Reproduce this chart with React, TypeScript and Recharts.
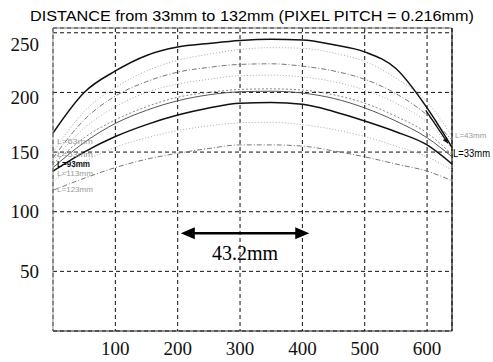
import {
  CartesianGrid,
  Line,
  LineChart,
  ReferenceDot,
  ReferenceLine,
  XAxis,
  YAxis,
} from "recharts";

// pixel positions along the sensor
const positions = [0, 50, 100, 150, 200, 250, 300, 350, 400, 450, 500, 550, 600, 640];

// output per distance L
const l33 = [166, 200, 218, 231, 238, 241, 243.5, 244.5, 244, 240, 234, 220, 187, 154];
const l43 = [150, 184, 204, 218, 227, 232, 236, 237.5, 237, 233, 226, 212, 192, 163];
const l53 = [145, 177, 197, 209, 217, 221, 223.5, 224, 222, 218, 211, 199, 181, 160];
const l63 = [143, 170, 188, 200, 207, 211, 214, 214.5, 213, 209, 202, 191, 175, 153];
const l73 = [140, 162, 177, 188, 196, 200, 202.5, 203, 202, 198, 191, 180, 166, 148];
const l83 = [137, 158, 174, 185, 193, 198, 200.5, 201, 199.5, 195, 187, 176, 162, 146];
const l93 = [134, 150, 163, 173, 181, 187, 191, 191.5, 190, 184, 176, 167, 156, 140];
const l113 = [126, 142, 154, 162, 168, 172, 174.5, 175, 173, 169, 163, 155, 146, 135];
const l123 = [118, 128, 137, 144, 149, 153, 156, 156, 155, 151, 146, 140, 134, 126];

const xTicks = [100, 200, 300, 400, 500, 600];
const yTicks = [50, 100, 150, 200, 250];

const spanStart = 205;
const spanEnd = 411;
const spanLevel = 82;
const spanText = "43.2mm";

const title = "DISTANCE from 33mm to 132mm (PIXEL PITCH = 0.216mm)";

const data = positions.map((x, i) => ({
  x,
  l33: l33[i],
  l43: l43[i],
  l53: l53[i],
  l63: l63[i],
  l73: l73[i],
  l83: l83[i],
  l93: l93[i],
  l113: l113[i],
  l123: l123[i],
}));

const series = [
  { key: "l123", stroke: "#777", width: 1, dash: "5 2 1 2" },
  { key: "l113", stroke: "#aaa", width: 1, dash: "1 2" },
  { key: "l93", stroke: "#111", width: 1.5, dash: undefined },
  { key: "l83", stroke: "#555", width: 1, dash: undefined },
  { key: "l73", stroke: "#888", width: 1, dash: "2 2" },
  { key: "l63", stroke: "#aaa", width: 1, dash: "1 2" },
  { key: "l53", stroke: "#777", width: 1, dash: "5 2 1 2" },
  { key: "l43", stroke: "#aaa", width: 1, dash: "1 2" },
  { key: "l33", stroke: "#111", width: 1.5, dash: undefined },
];

// curve names as printed on the figure
const leftLabels = [
  { text: "L=63mm", y: 159, bold: false },
  { text: "L=53mm", y: 148, bold: false },
  { text: "L=93mm", y: 140, bold: true },
  { text: "L=113mm", y: 132, bold: false },
  { text: "L=123mm", y: 119, bold: false },
];

// the printed 250 / 200 labels sit a little low in the original
const tickShift: Record<number, number> = { 250: 12, 200: 5 };

const YTick = (props: any) => {
  const { x, y, payload } = props;
  return (
    <text
      x={x}
      y={y + (tickShift[payload.value] || 0)}
      dy="0.35em"
      textAnchor="end"
      fontFamily="'Liberation Serif', serif"
      fontSize={19}
      fill="#111"
    >
      {payload.value}
    </text>
  );
};

const arrowHead = (x: number, y: number, dir: number) => (
  <polygon
    points={`${x},${y} ${x - dir * 14},${y - 6} ${x - dir * 14},${y + 6}`}
    fill="#000"
  />
);

export default function App() {
  return (
    <div style={{ position: "relative", width: 493, height: 362, background: "#fff" }}>
      <style>{`body{margin:0}`}</style>
      <svg width={493} height={26} style={{ position: "absolute", left: 0, top: 0 }}>
        <text
          x={30}
          y={21}
          textLength={444}
          lengthAdjust="spacingAndGlyphs"
          fontFamily="'Liberation Sans', Arial, sans-serif"
          fontSize={14}
          fill="#000"
        >
          {title}
        </text>
      </svg>
      <LineChart
        width={493}
        height={362}
        data={data}
        margin={{ top: 28, right: 41, bottom: 0, left: 0 }}
      >
        <CartesianGrid stroke="#111" strokeDasharray="4 3" />
        <XAxis
          dataKey="x"
          type="number"
          domain={[0, 640]}
          ticks={xTicks}
          height={31}
          tickLine={false}
          tickMargin={5}
          axisLine={{ stroke: "#222" }}
          tick={{ fontFamily: "'Liberation Serif', serif", fontSize: 19, fill: "#111" }}
        />
        <YAxis
          type="number"
          domain={[0, 254]}
          ticks={yTicks}
          width={53}
          tickLine={false}
          tickMargin={8}
          axisLine={{ stroke: "#888" }}
          tick={<YTick />}
        />
        <ReferenceLine y={254} stroke="#777" />
        <ReferenceLine x={640} stroke="#111" strokeWidth={1.2} />
        {series.map((s) => (
          <Line
            key={s.key}
            dataKey={s.key}
            type="monotone"
            stroke={s.stroke}
            strokeWidth={s.width}
            strokeDasharray={s.dash}
            dot={false}
            isAnimationActive={false}
          />
        ))}
        <ReferenceLine
          segment={[
            { x: spanStart, y: spanLevel },
            { x: spanEnd, y: spanLevel },
          ]}
          shape={(p: any) => (
            <g>
              <line x1={p.x1 + 10} y1={p.y1} x2={p.x2 - 10} y2={p.y2} stroke="#000" strokeWidth={2.5} />
              {arrowHead(p.x1, p.y1, -1)}
              {arrowHead(p.x2, p.y2, 1)}
              <text
                x={(p.x1 + p.x2) / 2}
                y={p.y1 + 27}
                textAnchor="middle"
                fontFamily="'Liberation Serif', serif"
                fontSize={20}
                fill="#000"
              >
                {spanText}
              </text>
            </g>
          )}
        />
        <ReferenceLine
          segment={[
            { x: 598, y: 185 },
            { x: 634, y: 157 },
          ]}
          ifOverflow="visible"
          shape={(p: any) => {
            const ang = Math.atan2(p.y2 - p.y1, p.x2 - p.x1);
            const hx = p.x2 - 6 * Math.cos(ang);
            const hy = p.y2 - 6 * Math.sin(ang);
            const nx = -Math.sin(ang) * 2.5;
            const ny = Math.cos(ang) * 2.5;
            return (
              <g>
                <line x1={p.x1} y1={p.y1} x2={hx} y2={hy} stroke="#111" strokeWidth={1.3} />
                <polygon
                  points={`${p.x2},${p.y2} ${hx + nx},${hy + ny} ${hx - nx},${hy - ny}`}
                  fill="#111"
                />
              </g>
            );
          }}
        />
        {leftLabels.map((l) => (
          <ReferenceDot
            key={l.text}
            x={0}
            y={l.y}
            ifOverflow="visible"
            shape={(p: any) => (
              <text
                x={p.cx + 4}
                y={p.cy}
                dy="0.35em"
                fontFamily="'Liberation Sans', Arial, sans-serif"
                fontSize={l.bold ? 9 : 7.5}
                fontWeight={l.bold ? 700 : 400}
                fill={l.bold ? "#111" : "#999"}
                textLength={l.bold ? 33 : 36}
                lengthAdjust="spacingAndGlyphs"
              >
                {l.text}
              </text>
            )}
          />
        ))}
        <ReferenceDot
          x={640}
          y={164}
          ifOverflow="visible"
          shape={(p: any) => (
            <text
              x={p.cx + 3}
              y={p.cy}
              dy="0.35em"
              fontFamily="'Liberation Sans', Arial, sans-serif"
              fontSize={8}
              fill="#999"
            >
              L=43mm
            </text>
          )}
        />
        <ReferenceDot
          x={640}
          y={149}
          ifOverflow="visible"
          shape={(p: any) => (
            <text
              x={p.cx + 1}
              y={p.cy}
              dy="0.35em"
              fontFamily="'Liberation Sans', Arial, sans-serif"
              fontSize={10.5}
              fill="#000"
              textLength={37}
              lengthAdjust="spacingAndGlyphs"
            >
              L=33mm
            </text>
          )}
        />
      </LineChart>
    </div>
  );
}
